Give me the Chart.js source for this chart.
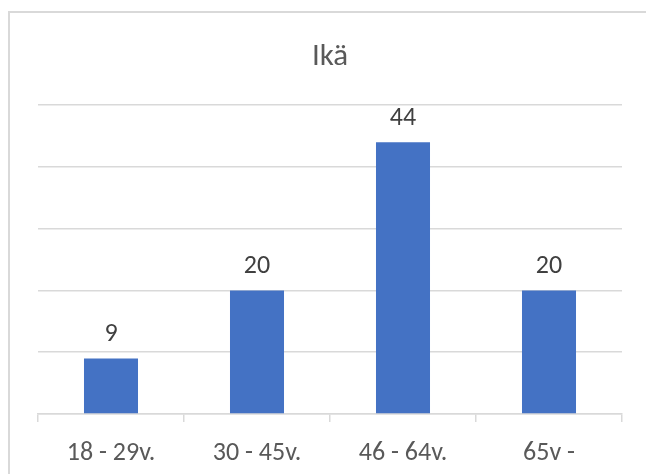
<!DOCTYPE html>
<html>
<head>
<meta charset="utf-8">
<title>Ikä</title>
<script src="https://cdn.jsdelivr.net/npm/chart.js@4/dist/chart.umd.min.js"></script>
<style>
  html, body { margin: 0; padding: 0; background: #ffffff; }
  #wrap { width: 646px; height: 474px; }
</style>
</head>
<body>
<div id="wrap"><canvas id="c" width="646" height="474"></canvas></div>
<script>
// Age groups and number of respondents in each
const categories = ['18 - 29v.', '30 - 45v.', '46 - 64v.', '65v -'];
const counts = [9, 20, 44, 20];
const chartTitle = 'Ikä';
const yMin = 0, yMax = 50, yStep = 10;

const FONT = "Calibri, Carlito, Lato, 'Open Sans', sans-serif";
const TEXT = '#595959';
const GRID = '#d9d9d9';

// Light frame around the chart object
const framePlugin = {
  id: 'frame',
  beforeDraw(chart) {
    const ctx = chart.ctx;
    ctx.save();
    ctx.fillStyle = '#ffffff';
    ctx.fillRect(0, 0, chart.width, chart.height);
    ctx.strokeStyle = GRID;
    ctx.lineWidth = 2;
    ctx.strokeRect(9, 12, chart.width + 20, chart.height + 20);
    ctx.restore();
  }
};

// Value labels above each bar
const valueLabels = {
  id: 'valueLabels',
  afterDatasetsDraw(chart) {
    const ctx = chart.ctx;
    ctx.save();
    ctx.font = "26px " + FONT;
    ctx.fillStyle = '#404040';
    ctx.textAlign = 'center';
    ctx.textBaseline = 'alphabetic';
    chart.data.datasets.forEach((ds, i) => {
      chart.getDatasetMeta(i).data.forEach((bar, j) => {
        ctx.fillText(String(ds.data[j]), bar.x, bar.y - 17);
      });
    });
    ctx.restore();
  }
};

new Chart(document.getElementById('c'), {
  type: 'bar',
  data: {
    labels: categories,
    datasets: [{
      label: chartTitle,
      data: counts,
      backgroundColor: '#4472c4',
      borderWidth: 0,
      categoryPercentage: 1,
      barPercentage: 0.37
    }]
  },
  options: {
    responsive: false,
    animation: false,
    layout: { padding: { left: 38, right: 24, top: 0, bottom: 0 } },
    plugins: {
      legend: { display: false },
      tooltip: { enabled: false },
      title: {
        display: true,
        text: chartTitle,
        color: TEXT,
        font: { family: FONT, size: 31, weight: 'normal', lineHeight: 1.2 },
        padding: { top: 39, bottom: 29 }
      }
    },
    scales: {
      x: {
        grid: { display: true, drawOnChartArea: false, drawTicks: true, tickLength: 8, color: GRID, lineWidth: 1.5, offset: true },
        border: { display: true, color: GRID, width: 1.5 },
        ticks: { color: TEXT, font: { family: FONT, size: 26 }, padding: 16, maxRotation: 0 },
        afterFit(scale) { scale.height = 60; }
      },
      y: {
        min: yMin, max: yMax,
        ticks: { display: false, stepSize: yStep },
        grid: { color: GRID, lineWidth: 1.5, drawTicks: false },
        border: { display: false },
        afterFit(scale) { scale.width = 0; }
      }
    }
  },
  plugins: [framePlugin, valueLabels]
});
</script>
</body>
</html>
